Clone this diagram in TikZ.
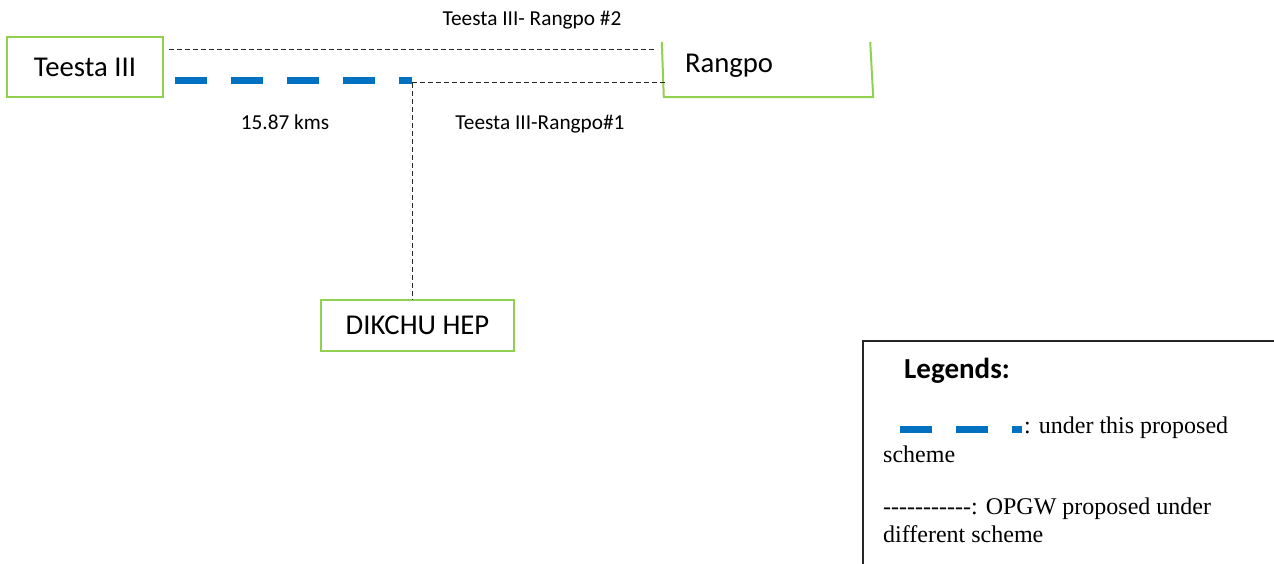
\documentclass[tikz,border=0pt]{standalone}
\usepackage{fontspec}
\setmainfont[Ligatures=TeXOff]{Liberation Serif}
\newfontfamily\calibri{Carlito}
\definecolor{boxgreen}{RGB}{146,208,80}
\definecolor{planblue}{RGB}{0,112,192}

\begin{document}
\begin{tikzpicture}[x=1pt,y=-1pt,
    station/.style={rectangle,inner sep=0pt,font=\calibri\fontsize{28.7}{34}\selectfont},
    linklabel/.style={inner sep=0pt,anchor=base,font=\calibri\fontsize{21.3}{25}\selectfont},
    legtext/.style={inner sep=0pt,anchor=base west,font=\fontsize{24}{28}\selectfont},
    opgw/.style={draw=black!85,line width=1pt,dash pattern=on 5pt off 3pt},
    proposed/.style={draw=planblue,line width=7pt,dash pattern=on 32pt off 24pt}]

      \useasboundingbox (0,0) rectangle (1274,564);

      \begin{scope}[every node/.style={station,draw=boxgreen,line width=1.3pt}]
        \node[minimum width=156pt,minimum height=60pt] (teesta) at (85,67)    {Teesta III};
        \node[minimum width=193pt,minimum height=51pt] (dikchu) at (417.5,325.5) {DIKCHU HEP};
      \end{scope}

      % Rangpo box is open at the top
      \node[station,minimum width=209pt,minimum height=55pt,text width=167pt,
            inner xsep=21pt,align=left,text depth=12pt] (rangpo) at (768.5,69.5) {Rangpo};
      \draw[boxgreen,line width=2pt] ([xshift=-2pt]rangpo.north west) -- (rangpo.south west)
        -- (rangpo.south east) -- ([xshift=-3pt]rangpo.north east);

      \coordinate (t2) at (169,50);
      \coordinate (r2) at (657,50);
      \coordinate (b0) at (175,81);
      \coordinate (b1) at (412,81);
      \coordinate (j)  at (412,83);
      \coordinate (r1) at (666,83);

      \begin{scope}[every node/.style={linklabel}]
        \node (lab2) at (532,26)  {Teesta III- Rangpo \#2};
        \node (lab1) at (540,130) {Teesta III-Rangpo\#1};
        \node (len)  at (285,130) {15.87 kms};
      \end{scope}

      \path[opgw] (t2) edge (r2);
      \path[opgw] (j)  edge (r1);
      \path[opgw] (j)  edge (j |- dikchu.north);
      \path[proposed] (b0) edge (b1);

      % legend
      \draw[black!85,line width=2pt] (863,566) -- (863,341) -- (1276,341);
      \node[inner sep=0pt,anchor=base west,font=\calibri\bfseries\fontsize{29}{34}\selectfont]
        (legtitle) at (904,378) {Legends:};
      \coordinate (k0) at (900,429);
      \coordinate (k1) at (1022,429);
      \path[proposed] (k0) edge (k1);
      \begin{scope}[every node/.style={legtext}]
        \node (leg1)  at (1024,433) {: under this proposed};
        \node (leg1b) at (883,462)  {scheme};
        \node (leg2)  at (883,514)  {-----------: OPGW proposed under};
        \node (leg2b) at (883,542)  {different scheme};
      \end{scope}

    \end{tikzpicture}
\end{document}
